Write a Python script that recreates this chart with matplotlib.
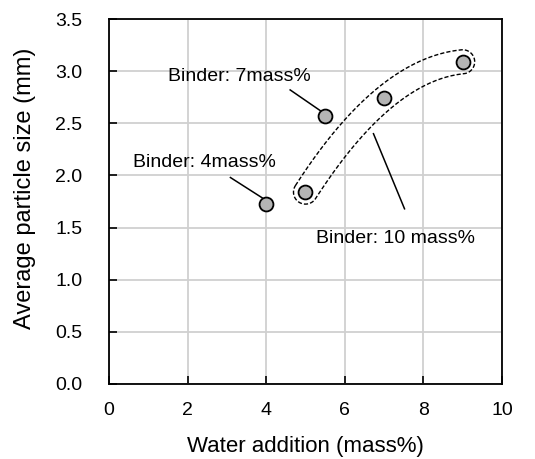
import numpy as np
import matplotlib.pyplot as plt

plt.rcParams['font.family'] = ['Liberation Sans', 'DejaVu Sans']

# data
water_4 = [4.0]
size_4 = [1.73]
water_7 = [5.5]
size_7 = [2.57]
water_10 = [5.0, 7.0, 9.0]
size_10 = [1.84, 2.74, 3.09]

x_ticks = [0, 2, 4, 6, 8, 10]
y_ticks = [0.0, 0.5, 1.0, 1.5, 2.0, 2.5, 3.0, 3.5]


def envelope(ax, xs, ys, radius=12, n=80):
    """Dashed rounded outline around a curve through the given points (display space)."""
    pts = ax.transData.transform(np.column_stack([xs, ys]))
    t = np.linspace(0, 1, n)
    tk = np.array([0.0, 0.5, 1.0])
    # quadratic Lagrange curve through the three points
    def basis(tt):
        return np.stack([
            (tt - tk[1]) * (tt - tk[2]) / ((tk[0] - tk[1]) * (tk[0] - tk[2])),
            (tt - tk[0]) * (tt - tk[2]) / ((tk[1] - tk[0]) * (tk[1] - tk[2])),
            (tt - tk[0]) * (tt - tk[1]) / ((tk[2] - tk[0]) * (tk[2] - tk[1])),
        ])
    c = basis(t).T @ pts
    d = np.gradient(c, axis=0)
    d /= np.linalg.norm(d, axis=1)[:, None]
    nrm = np.column_stack([-d[:, 1], d[:, 0]])
    side_a = c + radius * nrm
    side_b = c - radius * nrm
    arc = np.linspace(0, np.pi, 30)
    ang_end = np.arctan2(nrm[-1, 1], nrm[-1, 0])
    cap_end = c[-1] + radius * np.column_stack([np.cos(ang_end - arc), np.sin(ang_end - arc)])
    ang_start = np.arctan2(-nrm[0, 1], -nrm[0, 0])
    cap_start = c[0] + radius * np.column_stack([np.cos(ang_start - arc), np.sin(ang_start - arc)])
    outline = np.vstack([side_a, cap_end, side_b[::-1], cap_start, side_a[:1]])
    data = ax.transData.inverted().transform(outline)
    ax.plot(data[:, 0], data[:, 1], color='black', lw=1.0, ls=(0, (3, 1.5)), zorder=2)


fig = plt.figure(figsize=(5.35, 4.59), dpi=100)
ax = fig.add_axes([0.2037, 0.1634, 0.7346, 0.7952])

ax.set_xlim(0, 10)
ax.set_ylim(0, 3.5)
ax.set_xticks(x_ticks)
ax.set_yticks(y_ticks)
ax.set_yticklabels([f"{v:.1f}" for v in y_ticks])
ax.grid(True, color='#d0d0d0', lw=1.3, zorder=0)
ax.set_axisbelow(True)
ax.tick_params(direction='in', length=6, width=1.2, labelsize=14, colors='black')
ax.tick_params(axis='y', pad=19)
ax.tick_params(axis='x', pad=13)
for sp in ax.spines.values():
    sp.set_linewidth(1.3)

marker_style = dict(ls='none', marker='o', ms=10, mfc='#b4b4b4', mec='black', mew=1.3, zorder=4)
ax.plot(water_4, size_4, **marker_style)
ax.plot(water_7, size_7, **marker_style)
ax.plot(water_10, size_10, **marker_style)

envelope(ax, water_10, size_10)

# leader lines and labels
ax.plot([3.09, 3.92], [1.98, 1.78], color='black', lw=1.1, zorder=3)
ax.text(2.43, 2.12, "Binder: 4mass%", ha='center', va='center', fontsize=14)
ax.plot([4.61, 5.42], [2.82, 2.61], color='black', lw=1.1, zorder=3)
ax.text(3.32, 2.95, "Binder: 7mass%", ha='center', va='center', fontsize=14)
ax.plot([6.73, 7.52], [2.40, 1.68], color='black', lw=1.1, zorder=3)
ax.text(7.29, 1.40, "Binder: 10 mass%", ha='center', va='center', fontsize=14)

ax.set_xlabel("Water addition (mass%)", fontsize=16, va='center')
ax.set_ylabel("Average particle size (mm)", fontsize=17, va='center')
ax.xaxis.set_label_coords(0.5, -0.170)
ax.yaxis.set_label_coords(-0.214, 0.537)

fig.savefig("out.png", dpi=100)
